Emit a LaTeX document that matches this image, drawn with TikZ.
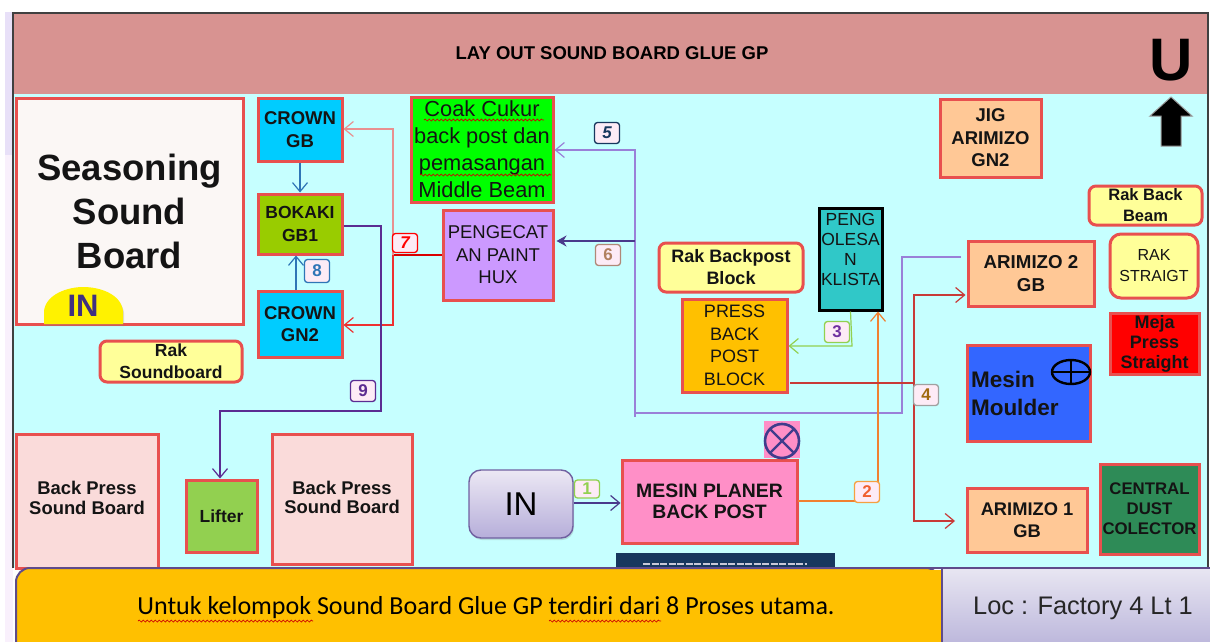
\documentclass[tikz,border=0pt]{standalone}
\usepackage{fontspec}
\setmainfont{Liberation Sans}
\newfontfamily\carlitofont{Carlito}
\usetikzlibrary{arrows.meta,calc,decorations.pathmorphing,shadows}
\definecolor{edgered}{HTML}{E8504F}
\definecolor{hdr}{HTML}{D89391}
\definecolor{bodycyan}{HTML}{C6FFFF}
\definecolor{rakyel}{HTML}{FFFF99}
\definecolor{crownblue}{HTML}{00CCFF}
\definecolor{bokakic}{HTML}{99CC00}
\definecolor{pressc}{HTML}{FFC000}
\definecolor{peach}{HTML}{FFC896}
\definecolor{paleback}{HTML}{FADBDA}
\definecolor{deeppurple}{HTML}{5B2C92}
\definecolor{lightpurple}{HTML}{9A80D8}
\definecolor{darkarrow}{HTML}{4A3A8C}
\definecolor{ored}{HTML}{C83A38}
\definecolor{oorange}{HTML}{F08030}
\definecolor{ogreen}{HTML}{92D050}
\definecolor{oblue}{HTML}{2E75B6}
\definecolor{symb}{HTML}{403C8C}
\definecolor{tinta}{HTML}{E8E0F8}
\definecolor{tintb}{HTML}{F9F0FC}
\definecolor{seasonc}{HTML}{FBF7F5}
\definecolor{inpurple}{HTML}{403080}
\definecolor{coakc}{HTML}{00FF00}
\definecolor{paintc}{HTML}{CC99FF}
\definecolor{klistac}{HTML}{30C8C8}
\definecolor{moulderc}{HTML}{3366FF}
\definecolor{mejac}{HTML}{FF0000}
\definecolor{dustc}{HTML}{2E8B57}
\definecolor{btnedge}{HTML}{7060A0}
\definecolor{btntop}{HTML}{ECE8F4}
\definecolor{btnbot}{HTML}{B6AEDA}
\definecolor{planerc}{HTML}{FF8FC7}
\definecolor{stripc}{HTML}{17375E}
\definecolor{stripd}{HTML}{C8C8D8}
\definecolor{lred}{HTML}{E89090}
\definecolor{bred}{HTML}{EE3030}
\definecolor{tagor}{HTML}{F5A040}
\definecolor{tagort}{HTML}{F06030}
\definecolor{tagpur}{HTML}{7030A0}
\definecolor{taggray}{HTML}{A0A0A0}
\definecolor{tagbrown}{HTML}{A06A10}
\definecolor{tagsix}{HTML}{B08878}
\definecolor{tagsixt}{HTML}{B08060}
\definecolor{footedge}{HTML}{5F4B8B}
\definecolor{loctop}{HTML}{E8E6F2}
\definecolor{locbot}{HTML}{BDB8DC}
\newcommand{\fs}[2]{\fontsize{#1}{#2}\selectfont}
\newcommand{\bx}[7]{\node[#6,minimum width={(#4-#2-2)*1pt},minimum height={(#5-#3-2)*1pt}] (#1) at ({(#2+#4)/2},{(#3+#5)/2}) {#7};}
\tikzset{
  machine/.style={draw=edgered,line width=3pt,inner sep=0pt,align=center,text=black!92},
  rak/.style={machine,rounded corners=7pt,fill=rakyel},
  numtag/.style={draw,rounded corners=3pt,line width=1.3pt,fill=white!92!magenta,inner sep=0pt,minimum width=25pt,minimum height=21pt,font=\fs{17}{17}\bfseries},
  flow/.style={line width=1.2pt,-{Straight Barb[length=9pt,width=15pt,line width=1.2pt]}},
  plainflow/.style={line width=1.2pt},
  squig/.style={draw=red!80!black,line width=.7pt,decorate,decoration={snake,amplitude=1pt,segment length=4pt}},
}
\begin{document}
\begin{tikzpicture}[x=1pt,y=-1pt]
\useasboundingbox (0,0) rectangle (1210,642);
\fill[white] (0,0) rectangle (1210,642);
% side tint, background bands
\fill[tinta] (5,12) rectangle (13,155);
\fill[tintb] (5,155) rectangle (13,642);
\fill[bodycyan] (13,94) rectangle (1208,568);
\fill[hdr] (13,14) rectangle (1208,94);
\draw[line width=1.2pt,black!75] (13,568) -- (13,13) -- (1208,13) -- (1208,568);
\node[font=\fs{18.5}{20}\bfseries] (title) at (612,53) {LAY OUT SOUND BOARD GLUE GP};
\node[font=\fs{60}{60}\bfseries,inner sep=0pt] (north) at (1171,60) {U};
\draw[fill=black,draw=black!40,line width=1pt] (1171,97) -- (1192,116) -- (1181,116) -- (1181,146) -- (1161,146) -- (1161,116) -- (1150,116) -- cycle;
% machines
\bx{season}{15}{97}{244}{325}{machine,fill=seasonc,font=\fs{36.5}{44}\bfseries}{Seasoning\\Sound\\Board}
\fill[yellow,drop shadow={shadow xshift=1pt,shadow yshift=-2pt,opacity=.25}] (44,324) -- (44,311) .. controls (46,294) and (68,287) .. (83,287) .. controls (100,287) and (121,294) .. (123,311) -- (123,324) -- cycle;
\node[font=\fs{31}{31}\bfseries,text=inpurple,inner sep=0pt] (inlabel) at (83,306) {IN};
\bx{raksound}{99}{340}{243}{383}{rak,font=\fs{17.5}{22}\bfseries}{Rak\\Soundboard}
\bx{crowngb}{257}{97}{343}{162}{machine,fill=crownblue,font=\fs{18.5}{22.5}\bfseries}{CROWN\\GB}
\bx{bokaki}{257}{193}{343}{255}{machine,fill=bokakic,font=\fs{17.5}{23}\bfseries}{BOKAKI\\GB1}
\bx{crowngn}{257}{290}{343}{358}{machine,fill=crownblue,font=\fs{18.5}{22.5}\bfseries}{CROWN\\GN2}
\bx{coak}{410}{96}{554}{203}{machine,fill=coakc,font=\fs{21.8}{27}}{Coak Cukur\\back post dan\\pemasangan\\Middle Beam}
\bx{paint}{442}{209}{554}{301}{machine,fill=paintc,font=\fs{18.5}{22.5}}{PENGECAT\\AN PAINT\\HUX}
\bx{rakbp}{658}{242}{804}{293}{rak,font=\fs{18}{22}\bfseries}{Rak Backpost\\Block}
\bx{pressbp}{681}{298}{788}{393}{machine,fill=pressc,font=\fs{18}{22.5}}{PRESS\\BACK\\POST\\BLOCK}
\bx{klista}{818}{207}{883}{311}{machine,draw=black,line width=3pt,fill=klistac,font=\fs{17.5}{20}}{PENG\\OLESA\\N\\KLISTA\\}
\bx{jig}{939}{98}{1042}{178}{machine,fill=peach,font=\fs{18.5}{22.5}\bfseries}{JIG\\ARIMIZO\\GN2}
\bx{ari2}{967}{240}{1095}{307}{machine,fill=peach,font=\fs{18.7}{23}\bfseries}{ARIMIZO 2\\GB}
\bx{ari1}{966}{487}{1088}{553}{machine,fill=peach,font=\fs{18.3}{22.5}\bfseries}{ARIMIZO 1\\GB}
\bx{moulder}{966}{344}{1091}{442}{machine,fill=moulderc,font=\fs{22.5}{28}\bfseries,align=left,text width=115pt}{Mesin\\Moulder}
\bx{rakbb}{1088}{185}{1203}{226}{rak,font=\fs{16.5}{21}\bfseries}{Rak Back\\Beam}
\bx{rakst}{1109}{233}{1199}{299}{rak,rounded corners=11pt,font=\fs{16}{21}}{RAK\\STRAIGT}
\bx{meja}{1109}{312}{1200}{375}{machine,fill=mejac,font=\fs{18}{20}\bfseries}{Meja\\Press\\Straight}
\bx{dust}{1099}{463}{1200}{555}{machine,fill=dustc,font=\fs{16.8}{20}\bfseries}{CENTRAL\\DUST\\COLECTOR}
\bx{back1}{15}{433}{159}{569}{machine,fill=paleback,font=\fs{18.4}{19.5}\bfseries}{Back Press\\Sound Board\\[-13.5pt]}
\bx{lifter}{185}{479}{258}{553}{machine,fill=ogreen,font=\fs{17.5}{20}\bfseries}{Lifter}
\bx{back2}{271}{433}{413}{565}{machine,fill=paleback,font=\fs{18.4}{19.5}\bfseries}{Back Press\\Sound Board\\[-16.5pt]}
\bx{inbtn}{468}{469}{574}{539}{draw=btnedge,line width=1.4pt,rounded corners=12pt,top color=btntop,bottom color=btnbot,inner sep=0pt,font=\fs{33}{33},drop shadow={shadow xshift=1pt,shadow yshift=-2pt,opacity=.25}}{IN}
\fill[planerc] (764,421) rectangle (800,458);
\bx{planer}{621}{459}{798}{544}{machine,fill=planerc,font=\fs{19.4}{21.5}\bfseries}{MESIN PLANER\\BACK POST}
% symbols
\draw[symb,line width=2.6pt] (782,441) circle (17);
\draw[symb,line width=2.4pt] (770,429) -- (794,453) (794,429) -- (770,453);
\draw[black,line width=2.4pt] (1071,372) ellipse (19 and 12);
\draw[black,line width=2.2pt] (1052,372) -- (1090,372) (1071,360) -- (1071,384);
% dark strip
\fill[stripc] (616,553) rectangle (835,568);
\draw[stripd,line width=2pt,dash pattern=on 7pt off 1.5pt] (643,564) -- (807,564);
% waypoints
\coordinate (j7) at (393,255);
\coordinate (j7a) at (393,129);
\coordinate (j7b) at (393,325);
\coordinate (p9a) at (381,226);
\coordinate (p9b) at (381,411);
\coordinate (p9c) at (220,411);
\coordinate (p5a) at (902,257);
\coordinate (p5b) at (902,413);
\coordinate (p5c) at (635,413);
\coordinate (p5d) at (635,150);
\coordinate (p5e) at (635,417);
\coordinate (p6) at (635,241);
\coordinate (p1) at (574,503);
\coordinate (p2a) at (798,501);
\coordinate (p2b) at (878,501);
\coordinate (p3a) at (852,346);
\coordinate (p4a) at (790,383);
\coordinate (p4b) at (914,383);
\coordinate (p4c) at (914,295);
\coordinate (p4d) at (914,521);
\coordinate (p8) at (296,290);
\coordinate (p5s) at (961,257);
\coordinate (p4e) at (955,521);
% connectors
\draw[flow,oblue] (crowngb.south) -- (bokaki.north);
\draw[flow,oblue] (p8) -- (p8 |- bokaki.south);
\draw[plainflow,red!85!black] (paint.west |- j7) -- (j7);
\draw[flow,lred] (j7) -- (j7a) -- (crowngb.east |- j7a);
\draw[flow,bred] (j7) -- (j7b) -- (crowngn.east |- j7b);
\draw[flow,deeppurple] (bokaki.east |- p9a) -- (p9a) -- (p9b) -- (p9c) -- (p9c |- lifter.north);
\draw[flow,lightpurple] (p5s) -- (p5a) -- (p5b) -- (p5c) -- (p5d) -- (coak.east |- p5d);
\draw[plainflow,lightpurple] (p5c) -- (p5e);
\draw[line width=1.4pt,darkarrow,-{Stealth[length=10pt,width=11pt]}] (p6) -- ([xshift=2pt]paint.east |- p6);
\draw[flow,darkarrow] (inbtn.east |- p1) -- (planer.west |- p1);
\draw[flow,oorange] (p2a) -- (p2b) -- (p2b |- klista.south);
\draw[flow,ogreen] (klista.south) -- (p3a) -- (pressbp.east |- p3a);
\draw[plainflow,ored] (p4a) -- (p4b);
\draw[flow,ored] (p4b) -- (p4c) -- ([xshift=-1pt]ari2.west |- p4c);
\draw[flow,ored] (p4b) -- (p4d) -- (p4e);
% number tags
\node[numtag,draw=ogreen,text=ogreen,minimum height=18pt] (n1) at (587,489) {1};
\node[numtag,draw=tagor,text=tagort] (n2) at (867,492) {2};
\node[numtag,draw=ogreen,text=tagpur] (n3) at (837,332) {3};
\node[numtag,draw=taggray,text=tagbrown] (n4) at (926,395) {4};
\node[numtag,draw=stripc,text=stripc,font=\fs{17}{17}\bfseries\itshape] (n5) at (607,133) {5};
\node[numtag,draw=tagsix,text=tagsixt] (n6) at (608,255) {6};
\node[numtag,draw=red,text=red,minimum height=19pt,font=\fs{17}{17}\bfseries\itshape] (n7) at (405,243) {7};
\node[numtag,draw=oblue,text=oblue,minimum height=23pt] (n8) at (317,271) {8};
\node[numtag,draw=deeppurple,text=deeppurple] (n9) at (363,391) {9};
% footer
\begin{scope}
\clip (0,560) rectangle (1210,642);
\bx{note}{15}{567}{941}{660}{draw=footedge,line width=2pt,rounded corners=14pt,fill=pressc,inner sep=0pt}{}
\end{scope}
\fill[pressc] (900,569.5) rectangle (941,642);
\bx{loc}{941}{567}{1212}{644}{draw=none,top color=loctop,bottom color=locbot,inner sep=0pt,font=\fs{25.4}{25},text=black!85}{\hspace{13pt}\raisebox{-9pt}[0pt][0pt]{Loc : Factory 4 Lt 1}}
\draw[footedge,line width=1.4pt] ([xshift=-41pt]loc.north west) -- (loc.north east);
\draw[footedge,line width=1.4pt] (loc.north west) -- (loc.south west);
\node[font=\carlitofont\fs{26}{26},inner sep=0pt] (notetext) at (486,608) {Untuk kelompok Sound Board Glue GP terdiri dari 8 Proses utama.};
% spell-check marks
\draw[squig] (138,621) -- (313,621);
\draw[squig] (549,621) -- (661,621);
\draw[squig] (424,120) -- (544,120);
\draw[squig] (420,175) -- (551,175);
\end{tikzpicture}
\end{document}
